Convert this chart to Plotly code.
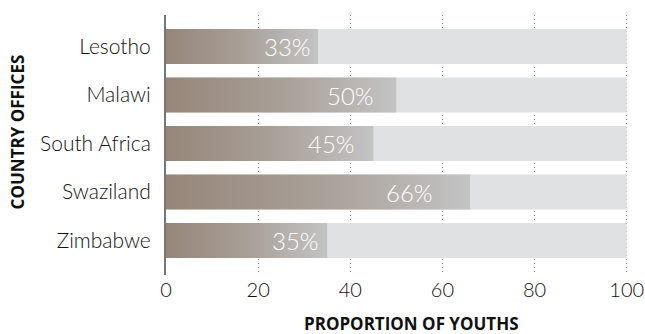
import plotly.graph_objects as go

countries = ["Lesotho", "Malawi", "South Africa", "Swaziland", "Zimbabwe"]
values = [33, 50, 45, 66, 35]
full = [100, 100, 100, 100, 100]
x_ticks = [0, 20, 40, 60, 80, 100]

FONT = "Lato"
TFONT = "Open Sans"
half = 0.36
idx = list(range(len(countries)))

fig = go.Figure()
fig.add_trace(go.Bar(y=idx, x=full, orientation="h", width=2 * half,
                     marker=dict(color="#e0e1e3", line=dict(width=0)),
                     hoverinfo="skip", showlegend=False))

for i, v in zip(idx, values):
    fig.add_trace(go.Scatter(
        x=[0, v, v, 0, 0], y=[i - half, i - half, i + half, i + half, i - half],
        mode="lines", line=dict(width=0), fill="toself",
        fillgradient=dict(type="horizontal", start=0, stop=v,
                          colorscale=[[0, "#968679"], [0.5, "#a89f97"], [1, "#c3c3c4"]]),
        showlegend=False, hoverinfo="skip"))
    fig.add_annotation(x=v * 0.8, y=i, text=f"{v}%", showarrow=False,
                       font=dict(family=FONT, size=24, color="white", weight=300),
                       xanchor="center", yanchor="middle")

# axis titles as annotations (positioned like the reference)
fig.add_annotation(xref="paper", yref="paper", x=0.531, y=-0.185, text="<b>PROPORTION OF YOUTHS</b>",
                   showarrow=False, xanchor="center", yanchor="middle",
                   font=dict(family=TFONT, size=17, color="#111", weight=800))
fig.add_annotation(xref="paper", yref="paper", x=-0.321, y=0.55, text="<b>COUNTRY OFFICES</b>",
                   showarrow=False, xanchor="center", yanchor="middle", textangle=-90,
                   font=dict(family=TFONT, size=17, color="#111", weight=800))

fig.update_layout(
    width=645, height=334,
    margin=dict(l=166, r=16, t=15, b=59),
    plot_bgcolor="white", paper_bgcolor="white",
    font=dict(family=FONT, color="#111"),
    xaxis=dict(range=[0, 100.5], tickvals=x_ticks, showgrid=True, gridcolor="#888",
               griddash="1px,3px", gridwidth=1, zeroline=False, showline=False,
               automargin=False,
               tickfont=dict(size=20, weight=300, color="#111"), ticks="", ticklabelstandoff=1),
    yaxis=dict(range=[4.71, -0.65], tickvals=idx, ticktext=countries, showgrid=False,
               zeroline=False, showline=True, linecolor="#777", linewidth=2,
               automargin=False,
               tickfont=dict(size=21, weight=300, color="#111"), ticks="", ticklabelstandoff=9),
)

fig.write_html("out.html")
